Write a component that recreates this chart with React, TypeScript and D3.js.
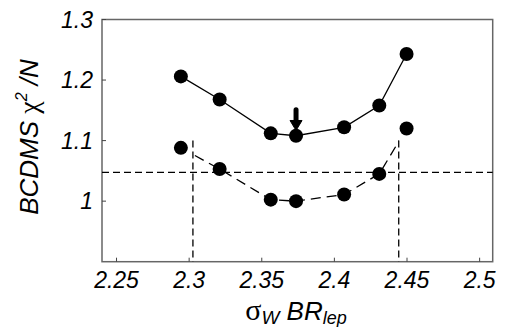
import React from "react";
import * as d3 from "d3";

const xValues = [2.2943, 2.321, 2.3562, 2.3736, 2.4067, 2.4309, 2.4497];
const upperChi2 = [1.206, 1.168, 1.112, 1.108, 1.122, 1.158, 1.243];
const lowerChi2 = [1.088, 1.053, 1.0025, 1.0, 1.011, 1.045, 1.12];
const xTicks = [2.25, 2.3, 2.35, 2.4, 2.45, 2.5];
const yTicks = [1, 1.1, 1.2, 1.3];
const thresholdY = 1.0476;
const boundsX = [2.3026, 2.4443];
const boundsTop = 1.1;
const arrowX = 2.3736;
const arrowFrom = 1.151;
const arrowTo = 1.12;

const W = 510;
const H = 327;
const L = 102;
const R = 492.7;
const T = 19.5;
const B = 261.7;

export default function App() {
  const x = d3.scaleLinear().domain([2.24, 2.509]).range([L, R]);
  const y = d3.scaleLinear().domain([0.9, 1.3]).range([B, T]);
  const line = d3
    .line<number>()
    .x((_, i) => x(xValues[i]))
    .y((d) => y(d));
  const sans = "'Liberation Sans', Arial, sans-serif";
  const serif = "'Liberation Serif', 'Times New Roman', serif";
  const ax = x(arrowX);
  const a0 = y(arrowFrom);
  const a1 = y(arrowTo);
  return (
    <svg
      width={W}
      height={H}
      style={{ position: "absolute", left: 0, top: 0, background: "#fff" }}
    >
      <defs>
        <clipPath id="between">
          <rect
            x={x(boundsX[0])}
            y={T}
            width={x(boundsX[1]) - x(boundsX[0])}
            height={B - T}
          />
        </clipPath>
      </defs>
      <rect
        x={L}
        y={T}
        width={R - L}
        height={B - T}
        fill="none"
        stroke="#666"
        strokeWidth={1.5}
      />
      {xTicks.map((t) => (
        <g key={"xt" + t}>
          <line x1={x(t)} x2={x(t)} y1={B} y2={B - 4} stroke="#444" strokeWidth={1} />
          <text
            x={x(t)}
            y={287.5}
            textAnchor="middle"
            fontFamily={sans}
            fontStyle="italic"
            fontSize={23}
            fill="#000"
          >
            {String(t)}
          </text>
        </g>
      ))}
      {yTicks.map((t) => (
        <g key={"yt" + t}>
          <line x1={L} x2={L + 4} y1={y(t)} y2={y(t)} stroke="#444" strokeWidth={1} />
          <text
            x={93}
            y={y(t) + 8}
            textAnchor="end"
            fontFamily={sans}
            fontStyle="italic"
            fontSize={23}
            fill="#000"
          >
            {String(t)}
          </text>
        </g>
      ))}
      <line
        x1={L}
        x2={R}
        y1={y(thresholdY)}
        y2={y(thresholdY)}
        stroke="#000"
        strokeWidth={1.3}
        strokeDasharray="7,4"
      />
      {boundsX.map((b) => (
        <line
          key={"b" + b}
          x1={x(b)}
          x2={x(b)}
          y1={y(boundsTop)}
          y2={B}
          stroke="#000"
          strokeWidth={1.3}
          strokeDasharray="7,4"
        />
      ))}
      <path d={line(upperChi2) || ""} fill="none" stroke="#000" strokeWidth={1.3} />
      <path
        d={line(lowerChi2) || ""}
        fill="none"
        stroke="#000"
        strokeWidth={1.3}
        strokeDasharray="10,6"
        clipPath="url(#between)"
      />
      {upperChi2.map((v, i) => (
        <circle key={"u" + i} cx={x(xValues[i])} cy={y(v)} r={7} fill="#000" />
      ))}
      {lowerChi2.map((v, i) => (
        <circle key={"l" + i} cx={x(xValues[i])} cy={y(v)} r={7} fill="#000" />
      ))}
      <line x1={ax} x2={ax} y1={a0} y2={a1 - 5} stroke="#000" strokeWidth={5} strokeLinecap="round" />
      <path
        d={`M${ax - 6},${a1 - 8} L${ax + 6},${a1 - 8} L${ax},${a1 + 2} Z`}
        fill="#000"
        stroke="#000"
        strokeWidth={1}
        strokeLinejoin="round"
      />
      <text
        transform={`translate(38,137) rotate(-90)`}
        textAnchor="middle"
        fontSize={26}
        fill="#000"
      >
        <tspan fontFamily={sans} fontStyle="italic">BCDMS </tspan>
        <tspan fontFamily={serif} fontSize={28}>χ</tspan>
        <tspan fontFamily={sans} fontStyle="italic" fontSize={16} dy={-11}>2</tspan>
        <tspan fontFamily={sans} fontStyle="italic" dy={11}> /N</tspan>
      </text>
      <text x={296} y={320} textAnchor="middle" fontSize={26} fill="#000">
        <tspan fontFamily={serif} fontSize={30}>σ</tspan>
        <tspan fontFamily={sans} fontStyle="italic" fontSize={19} dy={4}>W</tspan>
        <tspan fontFamily={sans} fontStyle="italic" dy={-4}>  BR</tspan>
        <tspan fontFamily={sans} fontStyle="italic" fontSize={18} dy={4}>lep</tspan>
      </text>
    </svg>
  );
}
